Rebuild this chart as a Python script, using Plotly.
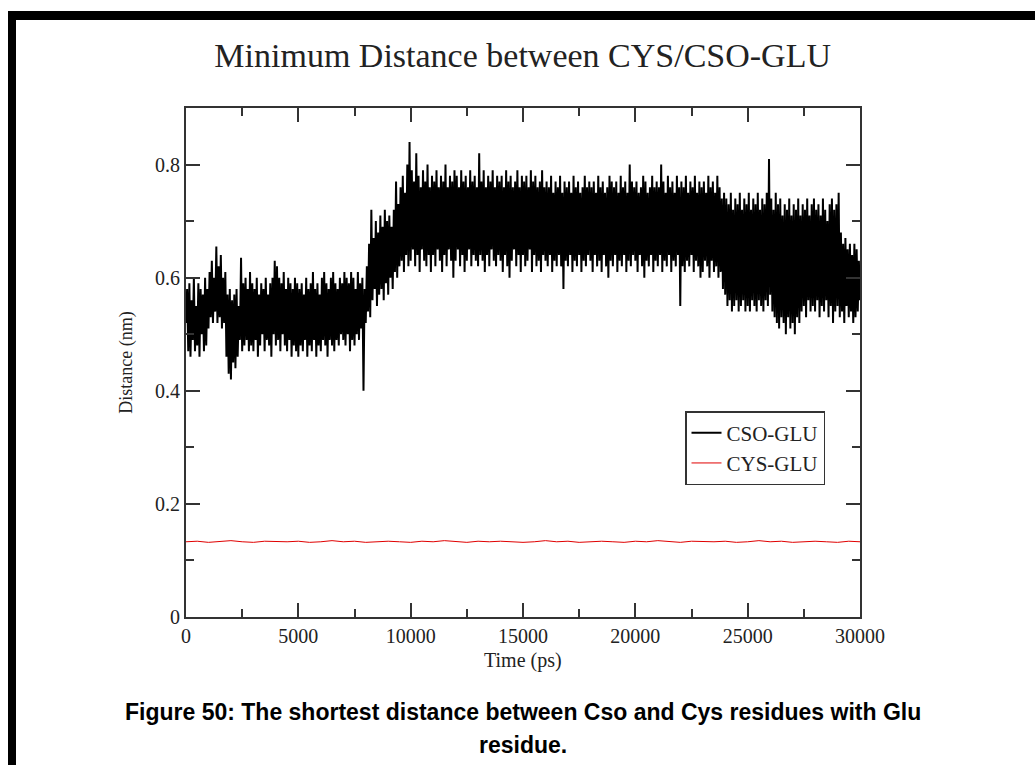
import plotly.graph_objects as go

# ---- data ----
time_step_ps = 50
cso_glu = [
    .52, .58, .47, .59, .46, .56, .49, .60, .47, .55, .48, .59, .46, .58, .50, .57, .47, .60, .48, .58,
    .51, .61, .53, .63, .52, .60, .54, .655, .52, .62, .53, .64, .51, .60, .52, .61, .46, .57, .43, .58,
    .42, .56, .45, .57, .44, .58, .46, .55, .49, .635, .47, .59, .48, .60, .49, .58, .47, .61, .48, .59,
    .47, .58, .49, .60, .46, .57, .48, .59, .50, .58, .47, .60, .49, .57, .48, .59, .46, .60, .50, .63,
    .48, .62, .49, .60, .47, .59, .50, .61, .48, .58, .47, .60, .49, .59, .46, .58, .48, .60, .47, .59,
    .46, .58, .48, .59, .47, .57, .49, .60, .46, .58, .48, .59, .47, .61, .49, .58, .46, .59, .48, .57,
    .47, .60, .49, .61, .48, .59, .46, .58, .49, .60, .48, .61, .47, .59, .49, .58, .48, .60, .50, .59,
    .49, .61, .48, .60, .50, .59, .47, .61, .49, .60, .48, .58, .50, .61, .49, .59, .51, .60, .40, .58,
    .52, .62, .54, .66, .53, .72, .56, .67, .58, .70, .55, .68, .57, .71, .58, .69, .56, .72, .59, .70,
    .57, .71, .60, .69, .58, .72, .61, .77, .60, .73, .62, .76, .63, .78, .61, .75, .64, .80, .62, .84,
    .63, .79, .65, .77, .62, .82, .64, .78, .61, .76, .65, .79, .63, .77, .62, .80, .64, .76, .61, .78,
    .64, .77, .62, .79, .65, .76, .63, .78, .61, .77, .64, .80, .62, .76, .65, .78, .63, .77, .60, .79,
    .63, .78, .65, .76, .62, .79, .64, .77, .61, .78, .63, .76, .65, .79, .62, .77, .64, .78, .63, .76,
    .62, .82, .64, .77, .63, .79, .61, .76, .64, .78, .62, .77, .65, .79, .63, .76, .62, .78, .64, .77,
    .63, .78, .61, .76, .64, .79, .62, .77, .60, .78, .63, .76, .65, .77, .62, .79, .64, .76, .61, .78,
    .64, .77, .62, .78, .63, .76, .65, .79, .61, .77, .64, .78, .62, .76, .63, .77, .61, .79, .64, .76,
    .63, .77, .62, .76, .64, .78, .61, .75, .63, .77, .62, .76, .64, .78, .62, .75, .58, .77, .63, .76,
    .62, .77, .64, .75, .61, .78, .63, .76, .62, .77, .64, .75, .61, .76, .63, .78, .62, .76, .64, .77,
    .63, .76, .61, .77, .64, .75, .62, .78, .63, .76, .61, .77, .64, .75, .62, .76, .60, .78, .63, .77,
    .62, .76, .64, .77, .61, .75, .63, .78, .62, .76, .64, .77, .61, .75, .63, .80, .62, .77, .64, .76,
    .63, .77, .61, .75, .64, .76, .62, .78, .60, .77, .63, .75, .62, .76, .64, .78, .61, .76, .63, .77,
    .62, .76, .64, .80, .61, .77, .63, .75, .62, .78, .64, .76, .61, .77, .63, .75, .62, .78, .64, .76,
    .55, .77, .62, .76, .61, .78, .63, .75, .62, .77, .64, .76, .61, .78, .63, .75, .62, .77, .60, .76,
    .61, .77, .63, .75, .62, .78, .60, .76, .63, .77, .61, .75, .62, .78, .60, .76, .61, .74, .58, .75,
    .57, .74, .55, .73, .56, .75, .54, .72, .55, .74, .56, .73, .54, .75, .55, .72, .56, .74, .54, .73,
    .55, .75, .54, .72, .56, .74, .55, .73, .54, .75, .56, .72, .55, .74, .54, .73, .56, .75, .55, .81,
    .57, .74, .54, .72, .53, .75, .52, .73, .51, .74, .53, .71, .52, .73, .50, .72, .53, .74, .51, .71,
    .52, .73, .50, .72, .53, .74, .52, .71, .54, .73, .55, .72, .53, .74, .56, .71, .54, .73, .55, .74,
    .54, .72, .56, .73, .53, .71, .55, .74, .54, .72, .56, .70, .53, .73, .55, .74, .52, .72, .54, .73,
    .55, .75, .53, .68, .54, .66, .52, .67, .55, .65, .53, .66, .54, .64, .52, .66, .53, .65, .54, .63,
    .56,
]
cso_time = [i * time_step_ps for i in range(len(cso_glu))]

red_step_ps = 500
cys_glu = [
    0.133, 0.134, 0.132, 0.133, 0.135, 0.133, 0.132, 0.134, 0.133, 0.133,
    0.134, 0.132, 0.133, 0.135, 0.133, 0.134, 0.132, 0.133, 0.134, 0.133,
    0.132, 0.134, 0.133, 0.135, 0.133, 0.132, 0.134, 0.133, 0.134, 0.133,
    0.132, 0.133, 0.135, 0.133, 0.134, 0.132, 0.133, 0.134, 0.133, 0.132,
    0.134, 0.133, 0.135, 0.133, 0.132, 0.134, 0.133, 0.133, 0.134, 0.132,
    0.133, 0.135, 0.133, 0.134, 0.132, 0.133, 0.134, 0.133, 0.132, 0.134,
    0.133,
]
cys_time = [i * red_step_ps for i in range(len(cys_glu))]

x_ticks = [0, 5000, 10000, 15000, 20000, 25000, 30000]
y_ticks = [0, 0.2, 0.4, 0.6, 0.8]

# ---- layout geometry ----
W, H = 1035, 765
L, R, T, B = 186, 860, 108, 617
pw, ph = R - L, B - T

def px(x):
    return (x - L) / pw

def py(y):
    return (B - y) / ph

serif = "Liberation Serif, Times New Roman, serif"
ink = "#222222"
axc = "#333333"

fig = go.Figure()
fig.add_trace(go.Scatter(x=cso_time, y=cso_glu, mode="lines", name="CSO-GLU",
                         line=dict(color="black", width=2)))
fig.add_trace(go.Scatter(x=cys_time, y=cys_glu, mode="lines", name="CYS-GLU",
                         line=dict(color="#e00000", width=1)))

axis_common = dict(showline=True, linecolor=axc, linewidth=2, mirror="allticks",
                   ticks="inside", ticklen=14, tickwidth=2, tickcolor=axc,
                   showgrid=False, zeroline=False,
                   tickfont=dict(family=serif, size=20, color=ink))

fig.update_xaxes(range=[0, 30000], tickvals=x_ticks, tickformat="d",
                 minor=dict(dtick=2500, ticklen=8, tickwidth=2, ticks="inside", tickcolor=axc),
                 **axis_common)
fig.update_yaxes(range=[0, 0.9], tickvals=y_ticks,
                 minor=dict(dtick=0.1, ticklen=8, tickwidth=2, ticks="inside", tickcolor=axc),
                 title=dict(text="Distance (nm)", font=dict(family=serif, size=18, color=ink), standoff=18),
                 **axis_common)

fig.update_layout(
    width=W, height=H,
    margin=dict(l=L, r=W - R, t=T, b=H - B),
    paper_bgcolor="white", plot_bgcolor="white",
    title=dict(text="Minimum Distance between CYS/CSO-GLU", x=0.505, xanchor="center",
               y=1 - 55 / H, yanchor="middle",
               font=dict(family=serif, size=34, color=ink)),
    legend=dict(x=px(755), y=py(448), xanchor="center", yanchor="middle",
                bgcolor="white", bordercolor=axc, borderwidth=1.5,
                font=dict(family=serif, size=21, color=ink),
                itemwidth=30, tracegroupgap=0),
    showlegend=True,
)

# x axis title placed just under the tick labels
fig.add_annotation(text="Time (ps)", xref="paper", yref="paper", x=px(523), y=py(660),
                   showarrow=False, xanchor="center", yanchor="middle",
                   font=dict(family=serif, size=20, color=ink))

# black frame on left and top
fig.add_shape(type="rect", xref="paper", yref="paper",
              x0=px(8), x1=px(1040), y0=py(11), y1=py(20),
              fillcolor="black", line=dict(width=0), layer="above")
fig.add_shape(type="rect", xref="paper", yref="paper",
              x0=px(8), x1=px(16), y0=py(11), y1=py(770),
              fillcolor="black", line=dict(width=0), layer="above")

caption_font = dict(family="Liberation Sans Narrow, Arial Narrow, Liberation Sans, sans-serif",
                    size=23, color="black")
fig.add_annotation(text="<b>Figure 50: The shortest distance between Cso and Cys residues with Glu</b>",
                   xref="paper", yref="paper", x=px(523), y=py(712), showarrow=False,
                   xanchor="center", yanchor="middle", font=caption_font)
fig.add_annotation(text="<b>residue.</b>",
                   xref="paper", yref="paper", x=px(523), y=py(745), showarrow=False,
                   xanchor="center", yanchor="middle", font=caption_font)

fig.write_html("out.html")
